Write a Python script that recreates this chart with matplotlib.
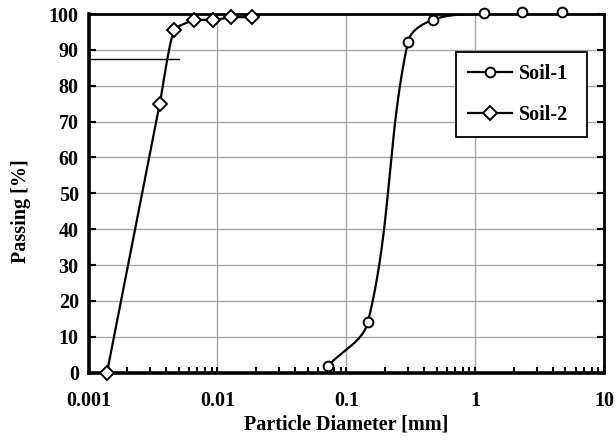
import numpy as np
import matplotlib.pyplot as plt
from matplotlib.ticker import FixedLocator, LogLocator, NullFormatter

plt.rcParams['font.family'] = ['Liberation Serif', 'DejaVu Serif']
plt.rcParams['font.weight'] = 'bold'

# grain size data
soil1_d = [0.0725, 0.147, 0.30, 0.47, 1.16, 2.3, 4.7]
soil1_p = [2.0, 14.2, 92.2, 98.4, 100.2, 100.6, 100.6]

soil2_d = [0.00139, 0.00357, 0.00461, 0.00663, 0.0092, 0.0128, 0.0184]
soil2_p = [0.0, 75.0, 95.5, 98.3, 98.3, 99.1, 99.1]

# stray reference line in the upper left
ref_d = [0.001, 0.0050]
ref_p = [87.5, 87.5]

xticks = [0.001, 0.01, 0.1, 1, 10]
xlabels = ['0.001', '0.01', '0.1', '1', '10']
yticks = list(range(0, 101, 10))


def smooth(d, p, n=40, k=0.35):
    # excel-like smoothed line, done in screen-ish space so it does not overshoot
    u = np.log10(d) * 129.0
    v = np.array(p) * 3.587
    pts = np.column_stack([u, v])
    m = len(pts)
    dirs = []
    for i in range(m):
        a = pts[max(i - 1, 0)]
        b = pts[min(i + 1, m - 1)]
        t = b - a
        dirs.append(t / np.hypot(*t))
    out = []
    for i in range(m - 1):
        p1, p2 = pts[i], pts[i + 1]
        L = np.hypot(*(p2 - p1))
        c1 = p1 + dirs[i] * L * k
        c2 = p2 - dirs[i + 1] * L * k
        t = np.linspace(0, 1, n)[:, None]
        seg = ((1 - t) ** 3 * p1 + 3 * (1 - t) ** 2 * t * c1
               + 3 * (1 - t) * t ** 2 * c2 + t ** 3 * p2)
        out.append(seg)
    out = np.vstack(out)
    return 10 ** (out[:, 0] / 129.0), out[:, 1] / 3.587


fig = plt.figure(figsize=(6.16, 4.45), dpi=100)
ax = fig.add_axes([0.1437, 0.1625, 0.8373, 0.806])
ax.set_xscale('log')
ax.set_xlim(0.001, 10)
ax.set_ylim(0, 100)

ax.grid(True, which='major', color='#a6a6a6', lw=1.0)
ax.set_axisbelow(True)

sx, sy = smooth(soil1_d, soil1_p)
ax.plot(sx, sy, color='black', lw=1.6, zorder=3)
ax.plot(soil1_d, soil1_p, ls='none', marker='o', ms=7, mfc='white',
        mec='black', mew=1.4, zorder=4, clip_on=False)

sx, sy = smooth(soil2_d, soil2_p, k=0.18)
ax.plot(sx, sy, color='black', lw=1.6, zorder=3)
ax.plot(soil2_d, soil2_p, ls='none', marker='D', ms=7.5, mfc='white',
        mec='black', mew=1.4, zorder=4, clip_on=False)

ax.plot(ref_d, ref_p, color='black', lw=1.0, zorder=3)

# legend proxies
ax.plot([], [], color='black', lw=1.6, marker='o', ms=7, mfc='white',
        mec='black', mew=1.4, label='Soil-1')
ax.plot([], [], color='black', lw=1.6, marker='D', ms=7.5, mfc='white',
        mec='black', mew=1.4, label='Soil-2')
leg = ax.legend(loc='upper left', bbox_to_anchor=(0.7125, 0.658, 0.2545, 0.237),
                mode='expand', borderaxespad=0,
                fancybox=False, framealpha=1, edgecolor='black', fontsize=14.5,
                handlelength=2.2, labelspacing=1.05, borderpad=0.6,
                handletextpad=0.3)
leg.get_frame().set_linewidth(1.3)

ax.xaxis.set_major_locator(FixedLocator(xticks))
ax.set_xticklabels(xlabels)
ax.xaxis.set_minor_locator(LogLocator(base=10, subs=np.arange(2, 10)))
ax.xaxis.set_minor_formatter(NullFormatter())
ax.set_yticks(yticks)

ax.tick_params(axis='x', which='major', direction='in', length=4, width=1.5,
               labelsize=14.5, pad=13)
ax.tick_params(axis='x', which='minor', direction='in', length=4, width=1.5)
ax.tick_params(axis='y', which='major', direction='in', length=5, width=1.5,
               labelsize=14.5, right=True, pad=7)

for s in ax.spines.values():
    s.set_linewidth(2.0)
ax.spines['left'].set_linewidth(2.6)
ax.spines['bottom'].set_linewidth(2.6)

ax.set_xlabel('Particle Diameter [mm]', fontsize=14.5, fontweight='bold', labelpad=3)
ax.set_ylabel('Passing [%]', fontsize=14.5, fontweight='bold')
ax.yaxis.set_label_coords(-0.112, 0.45)

fig.savefig('out.png', dpi=100)
